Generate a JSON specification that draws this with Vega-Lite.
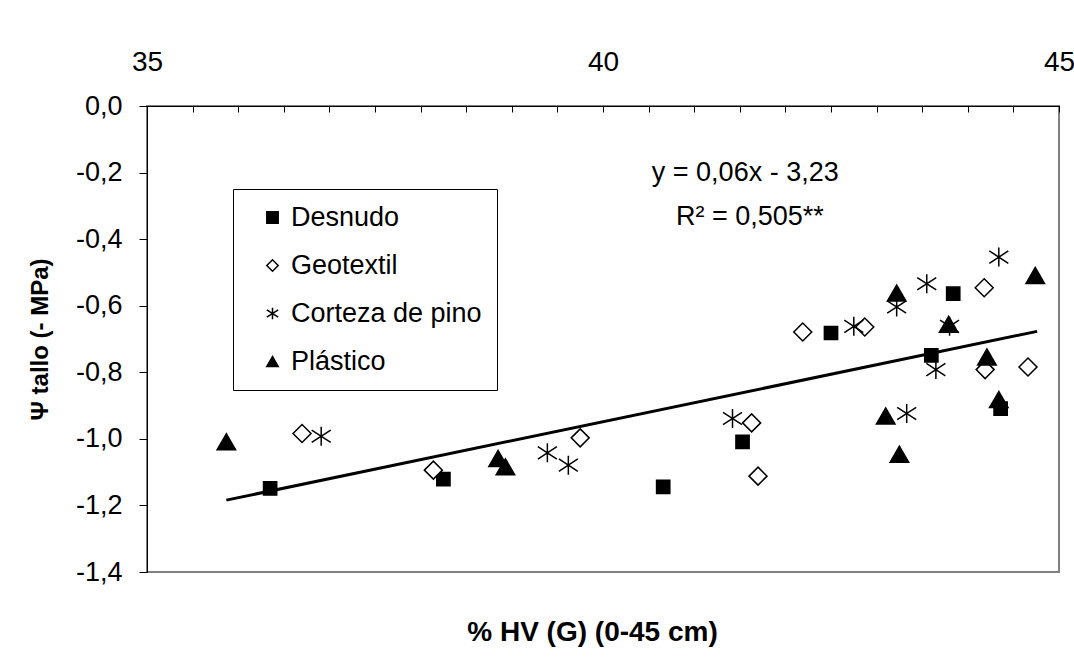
{
  "$schema": "https://vega.github.io/schema/vega-lite/v6.json",
  "width": 912,
  "height": 466,
  "autosize": "none",
  "padding": {"left": 147, "top": 106, "right": 15, "bottom": 86},
  "background": "white",
  "config": {
    "locale": {"number": {"decimal": ",", "thousands": ".", "grouping": [3], "currency": ["", " €"], "minus": "-"}},
    "view": {"stroke": "#808080", "strokeWidth": 2},
    "font": "Liberation Sans",
    "axis": {"grid": false, "labelFont": "Liberation Sans", "titleFont": "Liberation Sans", "labelColor": "black", "titleColor": "black", "domainColor": "black", "tickColor": "black"},
    "legend": {
      "orient": "none", "legendX": 86, "legendY": 83,
      "strokeColor": "black", "fillColor": "white", "padding": 15,
      "labelFontSize": 27, "labelFont": "Liberation Sans", "labelColor": "black", "labelLimit": 400,
      "symbolSize": 130, "symbolStrokeWidth": 1.5, "symbolStrokeColor": "black",
      "rowPadding": 20, "labelOffset": 5, "symbolOffset": 11
    }
  },
  "datasets": {
    "puntos": [
      {"hv": 36.35, "psi": -1.149, "tratamiento": "Desnudo"},
      {"hv": 38.25, "psi": -1.121, "tratamiento": "Desnudo"},
      {"hv": 40.66, "psi": -1.144, "tratamiento": "Desnudo"},
      {"hv": 41.53, "psi": -1.009, "tratamiento": "Desnudo"},
      {"hv": 42.50, "psi": -0.682, "tratamiento": "Desnudo"},
      {"hv": 43.60, "psi": -0.749, "tratamiento": "Desnudo"},
      {"hv": 43.84, "psi": -0.564, "tratamiento": "Desnudo"},
      {"hv": 44.36, "psi": -0.909, "tratamiento": "Desnudo"},
      {"hv": 36.70, "psi": -0.984, "tratamiento": "Geotextil"},
      {"hv": 38.14, "psi": -1.094, "tratamiento": "Geotextil"},
      {"hv": 39.75, "psi": -0.997, "tratamiento": "Geotextil"},
      {"hv": 41.63, "psi": -0.952, "tratamiento": "Geotextil"},
      {"hv": 41.70, "psi": -1.112, "tratamiento": "Geotextil"},
      {"hv": 42.19, "psi": -0.679, "tratamiento": "Geotextil"},
      {"hv": 42.87, "psi": -0.664, "tratamiento": "Geotextil"},
      {"hv": 44.18, "psi": -0.546, "tratamiento": "Geotextil"},
      {"hv": 44.19, "psi": -0.792, "tratamiento": "Geotextil"},
      {"hv": 44.66, "psi": -0.784, "tratamiento": "Geotextil"},
      {"hv": 36.91, "psi": -0.992, "tratamiento": "Corteza de pino"},
      {"hv": 39.39, "psi": -1.042, "tratamiento": "Corteza de pino"},
      {"hv": 39.62, "psi": -1.079, "tratamiento": "Corteza de pino"},
      {"hv": 41.42, "psi": -0.939, "tratamiento": "Corteza de pino"},
      {"hv": 42.75, "psi": -0.662, "tratamiento": "Corteza de pino"},
      {"hv": 43.22, "psi": -0.604, "tratamiento": "Corteza de pino"},
      {"hv": 43.33, "psi": -0.924, "tratamiento": "Corteza de pino"},
      {"hv": 43.55, "psi": -0.534, "tratamiento": "Corteza de pino"},
      {"hv": 43.65, "psi": -0.792, "tratamiento": "Corteza de pino"},
      {"hv": 43.80, "psi": -0.662, "tratamiento": "Corteza de pino"},
      {"hv": 44.34, "psi": -0.454, "tratamiento": "Corteza de pino"},
      {"hv": 35.87, "psi": -1.009, "tratamiento": "Plástico"},
      {"hv": 38.85, "psi": -1.059, "tratamiento": "Plástico"},
      {"hv": 38.93, "psi": -1.084, "tratamiento": "Plástico"},
      {"hv": 43.10, "psi": -0.931, "tratamiento": "Plástico"},
      {"hv": 43.22, "psi": -0.562, "tratamiento": "Plástico"},
      {"hv": 43.25, "psi": -1.046, "tratamiento": "Plástico"},
      {"hv": 43.79, "psi": -0.656, "tratamiento": "Plástico"},
      {"hv": 44.21, "psi": -0.754, "tratamiento": "Plástico"},
      {"hv": 44.34, "psi": -0.882, "tratamiento": "Plástico"},
      {"hv": 44.74, "psi": -0.509, "tratamiento": "Plástico"}
    ],
    "tendencia": [
      {"hv": 35.87, "psi": -1.184},
      {"hv": 44.76, "psi": -0.677}
    ],
    "ecuacion": [
      {"hv": 41.56, "psi": -0.202, "label": "y = 0,06x - 3,23"},
      {"hv": 41.61, "psi": -0.334, "label": "R² = 0,505**"}
    ]
  },
  "encoding": {
    "x": {
      "field": "hv", "type": "quantitative",
      "scale": {"domain": [35, 45], "nice": false, "zero": false},
      "axis": {
        "orient": "top",
        "values": [35, 35.5, 36, 36.5, 37, 37.5, 38, 38.5, 39, 39.5, 40, 40.5, 41, 41.5, 42, 42.5, 43, 43.5, 44, 44.5, 45],
        "labelExpr": "datum.value % 5 === 0 ? format(datum.value, 'd') : ''",
        "tickSize": -6, "labelPadding": 36, "labelFontSize": 28,
        "labelFlush": false, "labelOverlap": false, "labelBound": false,
        "title": "% HV (G) (0-45 cm)", "titleFontSize": 28, "titleFontWeight": "bold",
        "titleX": 445, "titleY": 526, "titleAlign": "center", "titleBaseline": "middle"
      }
    },
    "y": {
      "field": "psi", "type": "quantitative",
      "scale": {"domain": [-1.4, 0], "nice": false, "zero": false},
      "axis": {
        "values": [-1.4, -1.2, -1, -0.8, -0.6, -0.4, -0.2, 0],
        "format": ".1f", "tickSize": 8, "labelPadding": 17, "labelFontSize": 27,
        "labelOverlap": false, "labelFlush": false,
        "title": "Ψ tallo (- MPa)", "titleFontSize": 24, "titleFontWeight": "bold",
        "titleX": -107, "titleY": 233, "titleAngle": -90, "titleAlign": "center", "titleBaseline": "middle"
      }
    }
  },
  "layer": [
    {
      "data": {"name": "puntos"},
      "mark": {"type": "point", "strokeWidth": 1.5, "opacity": 1},
      "encoding": {
        "shape": {
          "field": "tratamiento", "type": "nominal", "title": null,
          "scale": {
            "domain": ["Desnudo", "Geotextil", "Corteza de pino", "Plástico"],
            "range": ["square", "diamond", "M0,-1L0,1M-1,-0.65L1,0.65M-1,0.65L1,-0.65", "triangle-up"]
          }
        },
        "fill": {
          "field": "tratamiento", "type": "nominal", "title": null,
          "scale": {
            "domain": ["Desnudo", "Geotextil", "Corteza de pino", "Plástico"],
            "range": ["black", "white", "transparent", "black"]
          }
        },
        "stroke": {
          "field": "tratamiento", "type": "nominal", "title": null,
          "scale": {
            "domain": ["Desnudo", "Geotextil", "Corteza de pino", "Plástico"],
            "range": ["black", "black", "black", "black"]
          }
        },
        "size": {
          "condition": [
            {"test": "datum.tratamiento === 'Desnudo'", "value": 175},
            {"test": "datum.tratamiento === 'Geotextil'", "value": 324},
            {"test": "datum.tratamiento === 'Corteza de pino'", "value": 361}
          ],
          "value": 342
        }
      }
    },
    {
      "data": {"name": "tendencia"},
      "mark": {"type": "line", "color": "black", "strokeWidth": 3}
    },
    {
      "data": {"name": "ecuacion"},
      "mark": {"type": "text", "fontSize": 27, "font": "Liberation Sans", "color": "black", "align": "center", "baseline": "middle"},
      "encoding": {
        "text": {"field": "label"}
      }
    }
  ]
}
